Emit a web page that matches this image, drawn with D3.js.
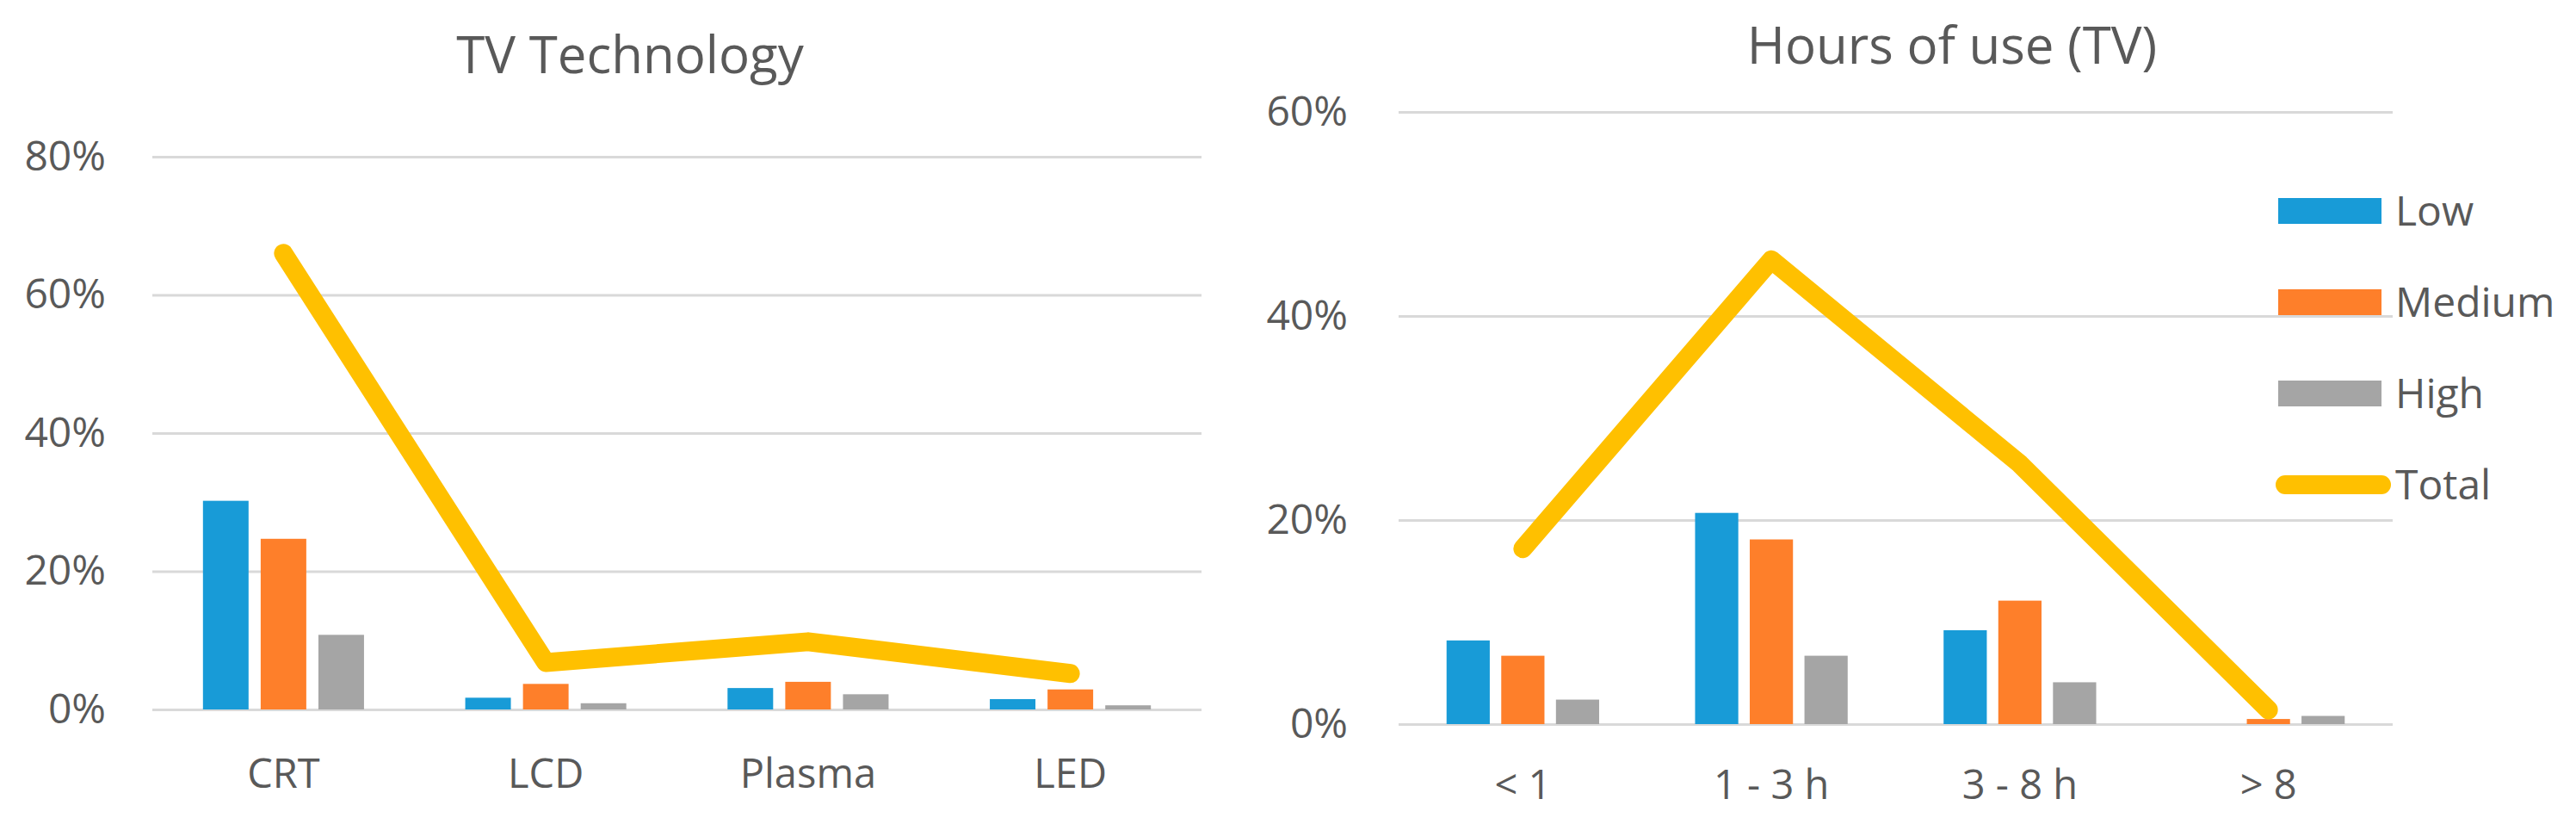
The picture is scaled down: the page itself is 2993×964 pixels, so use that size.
<!DOCTYPE html>
<html>
<head>
<meta charset="utf-8">
<script src="https://cdn.jsdelivr.net/npm/d3@7"></script>
<style>
    body { margin: 0; background: #ffffff; }
    svg text { font-family: "Open Sans", sans-serif; }
</style>
</head>
<body>
<div id="chart"></div>
<script>
// TV technology panel
let techCategories = ["CRT", "LCD", "Plasma", "LED"];
let techLow = [0.302, 0.017, 0.031, 0.015];
let techMedium = [0.247, 0.037, 0.040, 0.029];
let techHigh = [0.108, 0.009, 0.022, 0.006];
let techTotal = [0.660, 0.068, 0.098, 0.052];
let techTicks = [0, 0.2, 0.4, 0.6, 0.8];

// hours of use panel
let hourCategories = ["< 1", "1 - 3 h", "3 - 8 h", "> 8"];
let hourLow = [0.082, 0.207, 0.092, 0];
let hourMedium = [0.067, 0.181, 0.121, 0.005];
let hourHigh = [0.024, 0.067, 0.041, 0.008];
let hourTotal = [0.172, 0.455, 0.255, 0.014];
let hourTicks = [0, 0.2, 0.4, 0.6];

let seriesNames = ["Low", "Medium", "High"];
let seriesColors = ["#189BD7", "#FE7F2A", "#A5A5A5"];
let totalName = "Total";
let totalColor = "#FFC000";

let textColor = "#595959";
let gridColor = "#D9D9D9";

let svg = d3.select("#chart")
    .append("svg")
    .attr("width", 2993)
    .attr("height", 964);

function drawPanel(p) {
    let g = svg.append("g");

    let x0 = d3.scaleBand()
        .domain(p.categories)
        .range([p.left, p.right]);

    let band = x0.bandwidth();
    let x1 = d3.scaleBand()
        .domain(seriesNames)
        .range([band * 0.193, band * 0.807])
        .paddingInner(0.21);

    let y = d3.scaleLinear()
        .domain([0, p.max])
        .range([p.bottom, p.top]);

    // gridlines + tick labels
    let yAxis = g.append("g")
        .attr("transform", "translate(" + p.left + ",0)")
        .call(d3.axisLeft(y)
            .tickValues(p.ticks)
            .tickSize(-(p.right - p.left))
            .tickPadding(p.left - p.tickRight)
            .tickFormat(d3.format(".0%")));
    yAxis.select(".domain").remove();
    yAxis.selectAll("line")
        .attr("stroke", gridColor)
        .attr("stroke-width", 3);
    yAxis.selectAll("text")
        .attr("font-size", 48)
        .style("fill", textColor);

    // category labels
    let xAxis = g.append("g")
        .attr("transform", "translate(0," + p.bottom + ")")
        .call(d3.axisBottom(x0).tickSize(0));
    xAxis.select(".domain").remove();
    xAxis.selectAll("text")
        .attr("dy", null)
        .attr("y", p.labelY - p.bottom)
        .attr("font-size", 47)
        .style("fill", textColor);

    // bars
    let rows = p.categories.map(function (c, i) {
        return { cat: c, values: [p.low[i], p.medium[i], p.high[i]] };
    });

    g.selectAll(".grp")
        .data(rows)
        .enter()
        .append("g")
        .attr("transform", function (d) { return "translate(" + x0(d.cat) + ",0)"; })
        .selectAll("rect")
        .data(function (d) {
            return d.values.map(function (v, j) { return { name: seriesNames[j], value: v, color: seriesColors[j] }; });
        })
        .enter()
        .append("rect")
        .attr("x", function (d) { return x1(d.name); })
        .attr("y", function (d) { return y(d.value); })
        .attr("width", x1.bandwidth())
        .attr("height", function (d) { return y(0) - y(d.value); })
        .attr("fill", function (d) { return d.color; });

    // total line
    let line = d3.line()
        .x(function (d, i) { return x0(p.categories[i]) + band / 2; })
        .y(function (d) { return y(d); });

    g.append("path")
        .datum(p.total)
        .attr("d", line)
        .attr("fill", "none")
        .attr("stroke", totalColor)
        .attr("stroke-width", 22)
        .attr("stroke-linecap", "round")
        .attr("stroke-linejoin", "round");

    // title
    g.append("text")
        .attr("x", p.titleX)
        .attr("y", p.titleY)
        .attr("text-anchor", "middle")
        .attr("font-size", 60)
        .style("fill", textColor)
        .text(p.title);

    return g;
}

drawPanel({
    categories: techCategories, low: techLow, medium: techMedium, high: techHigh, total: techTotal,
    ticks: techTicks, max: 0.8,
    left: 177, right: 1396, top: 182, bottom: 824,
    tickRight: 123, labelY: 915,
    title: "TV Technology", titleX: 732, titleY: 85
});

let hoursPanel = drawPanel({
    categories: hourCategories, low: hourLow, medium: hourMedium, high: hourHigh, total: hourTotal,
    ticks: hourTicks, max: 0.6,
    left: 1625, right: 2780, top: 130, bottom: 841,
    tickRight: 1566, labelY: 928,
    title: "Hours of use (TV)", titleX: 2268, titleY: 74
});

// legend
let legendItems = seriesNames.map(function (n, i) { return { name: n, color: seriesColors[i], line: false }; });
legendItems.push({ name: totalName, color: totalColor, line: true });

let legend = hoursPanel.append("g")
    .selectAll("g")
    .data(legendItems)
    .enter()
    .append("g")
    .attr("transform", function (d, i) { return "translate(2647," + (245 + i * 106) + ")"; });

legend.filter(function (d) { return !d.line; })
    .append("rect")
    .attr("x", 0)
    .attr("y", -15)
    .attr("width", 120)
    .attr("height", 30)
    .attr("fill", function (d) { return d.color; });

legend.filter(function (d) { return d.line; })
    .append("line")
    .attr("x1", 8)
    .attr("x2", 120)
    .attr("y1", 0)
    .attr("y2", 0)
    .attr("stroke", function (d) { return d.color; })
    .attr("stroke-width", 22)
    .attr("stroke-linecap", "round");

legend.append("text")
    .attr("x", 136)
    .attr("dy", "0.35em")
    .attr("font-size", 48)
    .style("fill", textColor)
    .text(function (d) { return d.name; });
</script>
</body>
</html>
